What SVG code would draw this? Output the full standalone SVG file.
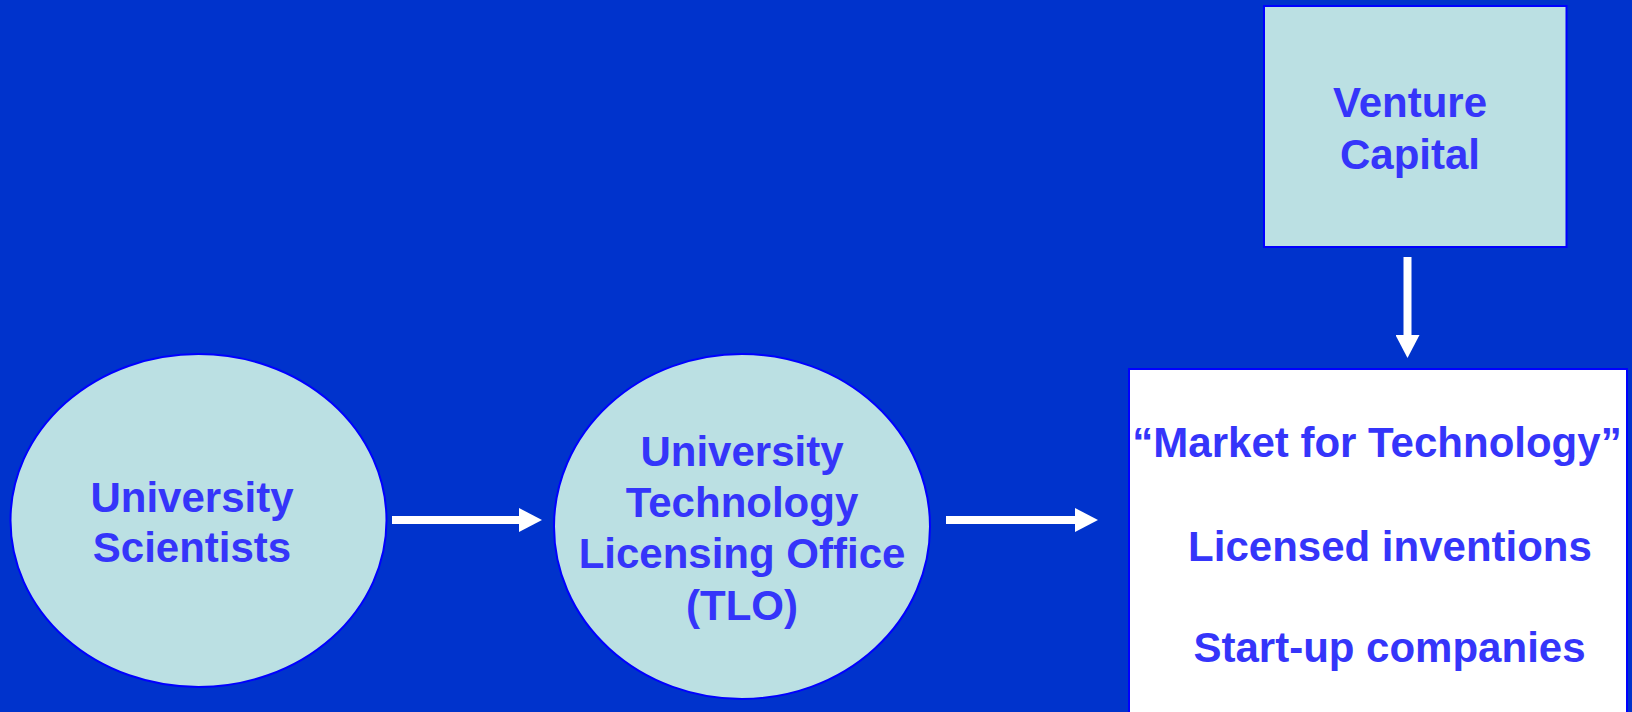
<svg xmlns="http://www.w3.org/2000/svg" width="1632" height="712" viewBox="0 0 1632 712">
<style>
.node{fill:#BBE0E3;stroke:#0000FF;stroke-width:2}
.box{fill:#FFFFFF;stroke:#0000FF;stroke-width:2}
.lbl{font-family:"Liberation Sans",Arial,sans-serif;font-weight:bold;font-size:42px;fill:#3535FA;text-anchor:middle}
.conn{stroke:#FFFFFF;stroke-width:8;fill:none}
</style>
<defs>
<marker id="ah" markerUnits="userSpaceOnUse" markerWidth="24" markerHeight="24" refX="0" refY="12" orient="auto">
<path d="M0,0 L23,12 L0,24 z" fill="#FFFFFF"/>
</marker>
</defs>
<rect x="0" y="0" width="1632" height="712" fill="#0033CC"/>
<g id="scientists">
<ellipse class="node" cx="198.5" cy="520.5" rx="188" ry="166.5"/>
<text class="lbl" x="192" y="512">University</text>
<text class="lbl" x="192" y="562">Scientists</text>
</g>
<g id="tlo">
<ellipse class="node" cx="742" cy="526.5" rx="188" ry="172.5"/>
<text class="lbl" x="742" y="466">University</text>
<text class="lbl" x="742" y="517">Technology</text>
<text class="lbl" x="742" y="568">Licensing Office</text>
<text class="lbl" x="742" y="620">(TLO)</text>
</g>
<g id="venture">
<rect class="node" x="1264" y="6" width="302.5" height="241"/>
<text class="lbl" x="1410" y="117">Venture</text>
<text class="lbl" x="1410" y="169">Capital</text>
</g>
<g id="market">
<rect class="box" x="1129" y="369" width="498" height="360"/>
<text class="lbl" x="1377" y="457">“Market for Technology”</text>
<text class="lbl" x="1390" y="561">Licensed inventions</text>
<text class="lbl" x="1389.5" y="662">Start-up companies</text>
</g>
<g id="connectors">
<line class="conn" x1="392" y1="520" x2="519" y2="520" marker-end="url(#ah)"/>
<line class="conn" x1="946" y1="520" x2="1075" y2="520" marker-end="url(#ah)"/>
<line class="conn" x1="1407.5" y1="257" x2="1407.5" y2="335" marker-end="url(#ah)"/>
</g>
</svg>
